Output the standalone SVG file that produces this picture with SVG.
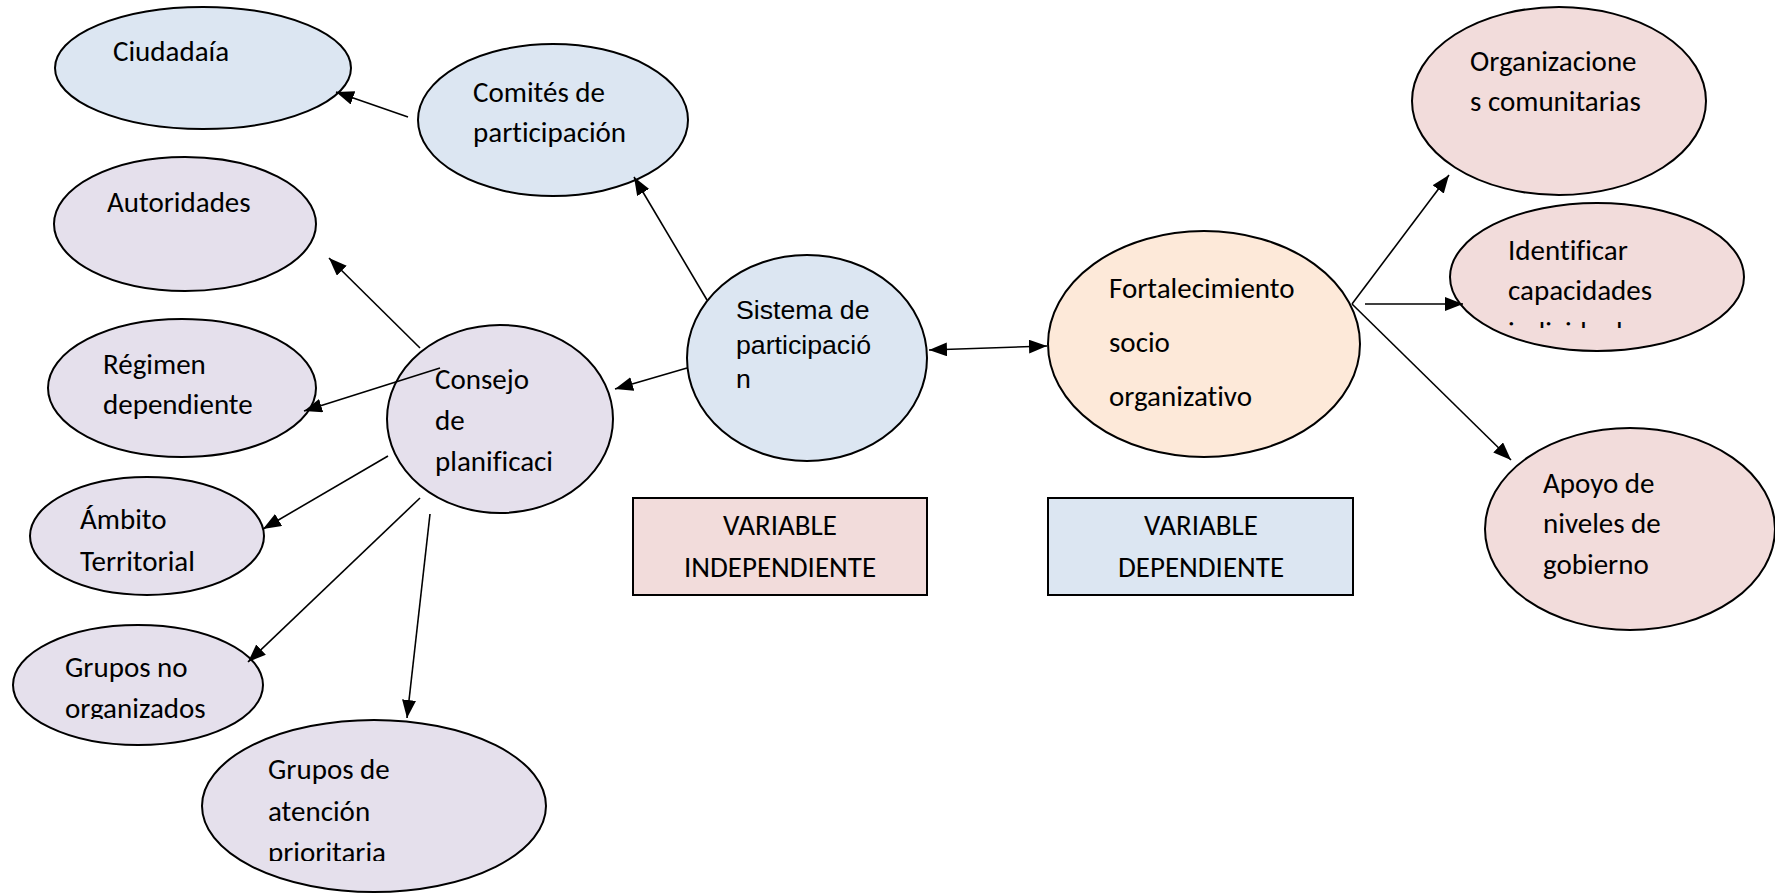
<svg xmlns="http://www.w3.org/2000/svg" width="1775" height="893" viewBox="0 0 1775 893">
<style>
.e{stroke:#000;stroke-width:2}
.b{fill:#DCE6F2}.l{fill:#E5E0EC}.p{fill:#F2DCDB}.o{fill:#FDE9D9}
.t{font-family:Carlito,Lato,"Liberation Sans",sans-serif;font-size:29px;fill:#000;font-variant-ligatures:none}
.a{font-family:"Liberation Sans",Arial,sans-serif;font-size:26.7px;fill:#000}
.c{stroke:#000;stroke-width:1.6;fill:none}
.m{text-anchor:middle}
</style>
<defs>
<marker id="ah" markerUnits="userSpaceOnUse" markerWidth="20" markerHeight="16" refX="18" refY="7" orient="auto">
<path d="M0,0 L18,7 L0,14 Z" fill="#000"/>
</marker>
<marker id="as" markerUnits="userSpaceOnUse" markerWidth="20" markerHeight="16" refX="18" refY="7" orient="auto-start-reverse">
<path d="M0,0 L18,7 L0,14 Z" fill="#000"/>
</marker>
<clipPath id="cT"><rect x="0" y="0" width="1775" height="572"/></clipPath>
<clipPath id="cO"><rect x="0" y="0" width="1775" height="719"/></clipPath>
<clipPath id="cP"><rect x="0" y="0" width="1775" height="861"/></clipPath>
<clipPath id="cI"><rect x="0" y="0" width="1775" height="328"/></clipPath>
</defs>

<g id="ciudadania"><ellipse class="e b" cx="203" cy="68" rx="148" ry="61"/><text class="t" x="113" y="61">Ciudadaía</text></g>
<g id="comites"><ellipse class="e b" cx="553" cy="120" rx="135" ry="76"/><text class="t" x="473" y="102">Comités de</text><text class="t" x="473" y="142">participación</text></g>
<g id="autoridades"><ellipse class="e l" cx="185" cy="224" rx="131" ry="67"/><text class="t" x="107" y="212">Autoridades</text></g>
<g id="regimen"><ellipse class="e l" cx="182" cy="388" rx="134" ry="69"/><text class="t" x="103" y="374">Régimen</text><text class="t" x="103" y="414">dependiente</text></g>
<g id="consejo"><ellipse class="e l" cx="500" cy="419" rx="113" ry="94"/><text class="t" x="435" y="389">Consejo</text><text class="t" x="435" y="430">de</text><text class="t" x="435" y="471">planificaci</text></g>
<g id="ambito"><ellipse class="e l" cx="147" cy="536" rx="117" ry="59"/><text class="t" x="80" y="529">Ámbito</text><text class="t" x="80" y="571" clip-path="url(#cT)">Territorial</text></g>
<g id="grupos-no"><ellipse class="e l" cx="138" cy="685" rx="125" ry="60"/><text class="t" x="65" y="677">Grupos no</text><text class="t" x="65" y="718" clip-path="url(#cO)">organizados</text></g>
<g id="grupos-de"><ellipse class="e l" cx="374" cy="806" rx="172" ry="86"/><text class="t" x="268" y="779">Grupos de</text><text class="t" x="268" y="821">atención</text><text class="t" x="268" y="862" clip-path="url(#cP)">prioritaria</text></g>
<g id="sistema"><ellipse class="e b" cx="807" cy="358" rx="120" ry="103"/><text class="a" x="736" y="319">Sistema de</text><text class="a" x="736" y="354">participació</text><text class="a" x="736" y="388">n</text></g>
<g id="fortalecimiento"><ellipse class="e o" cx="1204" cy="344" rx="156" ry="113"/><text class="t" x="1109" y="298">Fortalecimiento</text><text class="t" x="1109" y="352">socio</text><text class="t" x="1109" y="406">organizativo</text></g>
<g id="var-indep"><rect class="e p" x="633" y="498" width="294" height="97"/><text class="t m" x="780" y="535">VARIABLE</text><text class="t m" x="780" y="577">INDEPENDIENTE</text></g>
<g id="var-dep"><rect class="e b" x="1048" y="498" width="305" height="97"/><text class="t m" x="1201" y="535">VARIABLE</text><text class="t m" x="1201" y="577">DEPENDIENTE</text></g>
<g id="organizaciones"><ellipse class="e p" cx="1559" cy="101" rx="147" ry="94"/><text class="t" x="1470" y="71">Organizacione</text><text class="t" x="1470" y="111">s comunitarias</text></g>
<g id="identificar"><ellipse class="e p" cx="1597" cy="277" rx="147" ry="74"/><text class="t" x="1508" y="260">Identificar</text><text class="t" x="1508" y="300">capacidades</text><text class="t" x="1508" y="342" clip-path="url(#cI)">individuales</text></g>
<g id="apoyo"><ellipse class="e p" cx="1630" cy="529" rx="145" ry="101"/><text class="t" x="1543" y="493">Apoyo de</text><text class="t" x="1543" y="533">niveles de</text><text class="t" x="1543" y="574">gobierno</text></g>

<g id="connectors">
<line class="c" x1="408" y1="117" x2="336" y2="92" marker-end="url(#ah)"/>
<line class="c" x1="707" y1="300" x2="634" y2="177" marker-end="url(#ah)"/>
<line class="c" x1="420" y1="348" x2="329" y2="258" marker-end="url(#ah)"/>
<line class="c" x1="440" y1="368" x2="304" y2="411" marker-end="url(#ah)"/>
<line class="c" x1="687" y1="368" x2="615" y2="389" marker-end="url(#ah)"/>
<line class="c" x1="388" y1="456" x2="263" y2="529" marker-end="url(#ah)"/>
<line class="c" x1="420" y1="498" x2="248" y2="662" marker-end="url(#ah)"/>
<line class="c" x1="430" y1="514" x2="407" y2="718" marker-end="url(#ah)"/>
<line class="c" x1="929" y1="350" x2="1047" y2="346" marker-start="url(#as)" marker-end="url(#ah)"/>
<line class="c" x1="1352" y1="304" x2="1449" y2="175" marker-end="url(#ah)"/>
<line class="c" x1="1365" y1="304" x2="1463" y2="304" marker-end="url(#ah)"/>
<line class="c" x1="1352" y1="304" x2="1511" y2="460" marker-end="url(#ah)"/>
</g>
</svg>
